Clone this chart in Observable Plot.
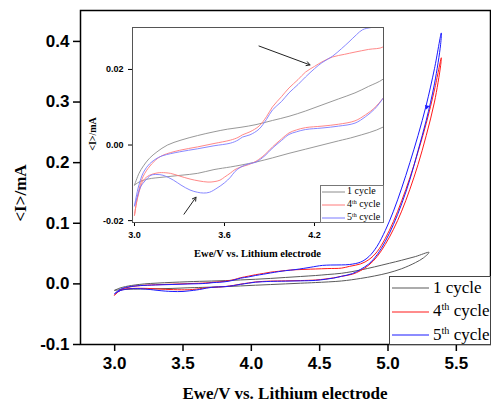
<!DOCTYPE html>
<html><head><meta charset="utf-8">
<script src="https://cdn.jsdelivr.net/npm/d3@7"></script>
<script src="https://cdn.jsdelivr.net/npm/@observablehq/plot@0.6"></script>
<style>
body{margin:0;background:#fff;}
#wrap{position:relative;width:491px;height:403px;overflow:hidden;}
#inset{position:absolute;left:83px;top:17px;}
.legbox{position:absolute;background:#fff;box-sizing:border-box;}
.entry{position:absolute;font-family:"Liberation Serif","Times New Roman",serif;color:#000;white-space:nowrap;line-height:1;}
.entry sup{font-size:0.6em;vertical-align:0.55em;line-height:0;}
.sample{position:absolute;}
</style></head>
<body><div id="wrap"><div id="inset"></div></div>
<script>
// ---- data (potential V vs Li, current mA) ----
const V1 = [3.00,3.03,3.06,3.10,3.15,3.22,3.31,3.42,3.53,3.62,3.71,3.81,3.92,4.03,4.14,4.25,4.36,4.47,4.56,4.66,4.80,4.90,5.01,5.10,5.20,5.30,
            5.26,5.20,5.10,5.00,4.90,4.80,4.66,4.47,4.36,4.25,4.14,4.03,3.92,3.81,3.71,3.64,3.53,3.42,3.31,3.19,3.09,3.03,3.00];
const I1 = [-0.0106,-0.0075,-0.0055,-0.0035,-0.0018,0.0000,0.0013,0.0025,0.0035,0.0042,0.0047,0.0054,0.0065,0.0076,0.0090,0.0106,0.0122,0.0138,0.0155,0.0175,0.023,0.028,0.034,0.039,0.045,0.052,
            0.043,0.035,0.025,0.018,0.013,0.009,0.0048,0.0022,0.0011,0.0000,-0.0011,-0.0022,-0.0034,-0.0045,-0.0053,-0.0058,-0.0065,-0.0075,-0.0080,-0.0085,-0.0090,-0.0098,-0.0106];

const V4 = [3.00,3.01,3.02,3.05,3.09,3.14,3.19,3.30,3.42,3.53,3.64,3.69,3.72,3.77,3.83,3.88,3.92,3.98,4.03,4.09,4.14,4.20,4.25,4.32,4.40,4.47,4.56,4.66,4.72,4.80,4.86,4.92,4.98,5.04,5.10,5.16,5.22,5.28,5.34,5.39,
            5.385,5.34,5.28,5.22,5.16,5.10,5.04,4.98,4.92,4.86,4.80,4.74,4.66,4.60,4.54,4.47,4.36,4.25,4.14,4.08,4.03,3.98,3.92,3.87,3.81,3.76,3.71,3.67,3.64,3.60,3.57,3.53,3.49,3.43,3.37,3.30,3.24,3.18,3.15,3.10,3.06,3.03,3.01,3.00];
const I4 = [-0.0186,-0.0160,-0.0138,-0.0090,-0.0062,-0.0040,-0.0027,-0.0014,-0.0005,0.0004,0.0013,0.0020,0.0027,0.0035,0.0050,0.0075,0.0101,0.0128,0.0151,0.0173,0.0193,0.0208,0.0220,0.0233,0.0240,0.0246,0.0253,0.0260,0.029,0.033,0.040,0.053,0.075,0.103,0.137,0.175,0.218,0.265,0.320,0.373,
            0.360,0.300,0.245,0.197,0.156,0.120,0.090,0.065,0.045,0.031,0.022,0.016,0.0125,0.0098,0.0080,0.0064,0.0055,0.0050,0.0046,0.0040,0.0032,0.0016,-0.0005,-0.0025,-0.0043,-0.0052,-0.0058,-0.0065,-0.0074,-0.0085,-0.0093,-0.0097,-0.0098,-0.0095,-0.0090,-0.0082,-0.0075,-0.0073,-0.0074,-0.0080,-0.0093,-0.0125,-0.0160,-0.0186];

const V5 = [3.00,3.01,3.03,3.06,3.10,3.15,3.19,3.30,3.42,3.53,3.64,3.69,3.72,3.77,3.83,3.88,3.92,3.98,4.03,4.09,4.14,4.20,4.25,4.32,4.38,4.43,4.48,4.52,4.58,4.66,4.72,4.80,4.86,4.92,4.98,5.04,5.10,5.16,5.22,5.28,5.34,5.39,
            5.385,5.34,5.28,5.22,5.16,5.10,5.04,4.98,4.92,4.86,4.80,4.74,4.66,4.60,4.54,4.47,4.36,4.25,4.14,4.08,4.03,3.98,3.92,3.87,3.81,3.76,3.71,3.67,3.64,3.60,3.55,3.50,3.46,3.42,3.37,3.31,3.26,3.19,3.15,3.11,3.07,3.04,3.02,3.00];
const I5 = [-0.0161,-0.0140,-0.0105,-0.0072,-0.0050,-0.0035,-0.0028,-0.0018,-0.0010,-0.0002,0.0005,0.0013,0.0021,0.0027,0.0042,0.0068,0.0093,0.0115,0.0138,0.0160,0.0180,0.0202,0.0218,0.0235,0.0255,0.0273,0.0292,0.0305,0.0311,0.0313,0.032,0.036,0.045,0.062,0.088,0.120,0.158,0.200,0.245,0.295,0.355,0.414,
            0.395,0.330,0.270,0.220,0.172,0.132,0.098,0.070,0.048,0.033,0.024,0.017,0.0125,0.0095,0.0075,0.0058,0.0050,0.0045,0.0041,0.0035,0.0028,0.0012,-0.0008,-0.0028,-0.0045,-0.0050,-0.0058,-0.0070,-0.0085,-0.0100,-0.0114,-0.0125,-0.0127,-0.0125,-0.0119,-0.0106,-0.0093,-0.0080,-0.0078,-0.0080,-0.0095,-0.0111,-0.0135,-0.0161];

const cycleNames = ["1 cycle","4th cycle","5th cycle"];
const mainColors = ["#5a5a5a","#ff1a1a","#1a1aff"];
const insetColors = ["#8c8c8c","#ff7a7a","#7a7aff"];
const xTicksMain = [3.0,3.5,4.0,4.5,5.0,5.5];
const yTicksMain = [-0.1,0.0,0.1,0.2,0.3,0.4];
const xTicksInset = [3.0,3.6,4.2];
const yTicksInset = [-0.02,0.00,0.02];
// inset annotation arrows (data coords of inset)
const arrowV1 = [3.83,3.33], arrowI1 = [0.0262,-0.0183];
const arrowV2 = [4.17,3.41], arrowI2 = [0.0212,-0.0138];
// scan direction marker on 5th cycle (main)
const markerV = [5.285], markerI = [0.292];

const rows = [[V1,I1],[V4,I4],[V5,I5]].flatMap(([V,I],k) => V.map((v,j) => ({v, i:I[j], cycle:cycleNames[k]})));
const arrows = arrowV1.map((v,j) => ({x1:v, y1:arrowI1[j], x2:arrowV2[j], y2:arrowI2[j]}));
const markers = markerV.map((v,j) => ({v, i:markerI[j]}));

const sans = '"Liberation Sans", Arial, sans-serif';
const serif = '"Liberation Serif", "Times New Roman", serif';

const main = Plot.plot({
  width:491, height:403, marginLeft:80, marginRight:1, marginTop:10, marginBottom:59,
  style:{fontFamily:sans, fontSize:"17px", fontWeight:"bold", color:"#000", background:"transparent"},
  x:{domain:[2.75,5.75]},
  y:{domain:[-0.1,0.451]},
  color:{domain:cycleNames, range:mainColors},
  marks:[
    Plot.axisX({ticks:xTicksMain, tickFormat:d=>d.toFixed(1), tickSize:7, tickPadding:5, strokeWidth:1.5, label:null}),
    Plot.axisY({ticks:yTicksMain, tickFormat:d=>d.toFixed(1), tickSize:7, tickPadding:4, strokeWidth:1.5, label:null}),
    Plot.line(rows, {x:"v", y:"i", z:"cycle", stroke:"cycle", strokeWidth:1, curve:"catmull-rom", clip:true}),
    Plot.dot(markers, {x:"v", y:"i", symbol:"triangle", r:1.8, fill:mainColors[2], stroke:"none", rotate:192}),
    Plot.frame({stroke:"#000", strokeWidth:1.5})
  ]
});
d3.select(main).append("text").attr("x",285).attr("y",399).attr("text-anchor","middle")
  .style("font",`bold 17px ${serif}`).text("Ewe/V vs. Lithium electrode");
d3.select(main).append("text").attr("transform","translate(26,193) rotate(-90)").attr("text-anchor","middle")
  .style("font",`bold 17px ${serif}`).text("<I>/mA");
document.getElementById("wrap").insertBefore(main, document.getElementById("inset"));

const inset = Plot.plot({
  width:302, height:250, marginLeft:49, marginRight:2, marginTop:10, marginBottom:45,
  style:{fontFamily:sans, fontSize:"9px", fontWeight:"bold", color:"#000", background:"transparent", overflow:"visible"},
  x:{domain:[2.9867,4.66]},
  y:{domain:[-0.0205,0.0311]},
  color:{domain:cycleNames, range:insetColors},
  marks:[
    Plot.axisX({ticks:xTicksInset, tickFormat:d=>d.toFixed(1), tickSize:4, tickPadding:5, label:null}),
    Plot.axisY({ticks:yTicksInset, tickFormat:d=>d.toFixed(2), tickSize:4, tickPadding:5, label:null}),
    Plot.line(rows, {x:"v", y:"i", z:"cycle", stroke:"cycle", strokeWidth:0.9, curve:"catmull-rom", clip:true}),
    Plot.arrow(arrows, {x1:"x1", y1:"y1", x2:"x2", y2:"y2", stroke:"#222", strokeWidth:1, headLength:6}),
    Plot.frame({stroke:"#555", strokeWidth:1})
  ]
});
d3.select(inset).append("text").attr("x",174.5).attr("y",240).attr("text-anchor","middle")
  .style("font",`bold 10.5px ${serif}`).text("Ewe/V vs. Lithium electrode");
d3.select(inset).append("text").attr("transform","translate(13,117) rotate(-90)").attr("text-anchor","middle")
  .style("font",`bold 10px ${serif}`).text("<I>/mA");
document.getElementById("inset").appendChild(inset);

// ---- legends ----
function legend(box, ent) {
  const wrap = document.getElementById("wrap");
  const b = document.createElement("div");
  b.className = "legbox";
  Object.assign(b.style, {left:box.x+"px", top:box.y+"px", width:box.w+"px", height:box.h+"px", border:box.border});
  wrap.appendChild(b);
  cycleNames.forEach((name,k) => {
    const y = ent.y0 + k*ent.dy;
    const s = document.createElementNS("http://www.w3.org/2000/svg","svg");
    s.setAttribute("class","sample");
    s.setAttribute("width", ent.lw); s.setAttribute("height", 4);
    s.style.left = ent.lx+"px"; s.style.top = (y-2)+"px";
    const ln = document.createElementNS("http://www.w3.org/2000/svg","line");
    ln.setAttribute("x1",0); ln.setAttribute("x2",ent.lw); ln.setAttribute("y1",2); ln.setAttribute("y2",2);
    ln.setAttribute("stroke", ent.colors[k]); ln.setAttribute("stroke-width", ent.sw);
    s.appendChild(ln);
    wrap.appendChild(s);
    const t = document.createElement("div");
    t.className = "entry";
    t.innerHTML = name.replace("th","<sup>th</sup>");
    Object.assign(t.style, {left:ent.tx+"px", top:(y-ent.fs*0.55)+"px", fontSize:ent.fs+"px"});
    wrap.appendChild(t);
  });
}
legend({x:389,y:276,w:102,h:69,border:"1.5px solid #444"},
       {y0:288, dy:23.5, lx:392, lw:37, tx:433, fs:17, sw:1.2, colors:mainColors});
legend({x:320,y:185,w:64,h:38,border:"1px solid #777"},
       {y0:191.5, dy:13, lx:322, lw:23, tx:347, fs:10, sw:1, colors:insetColors});
</script></body></html>
